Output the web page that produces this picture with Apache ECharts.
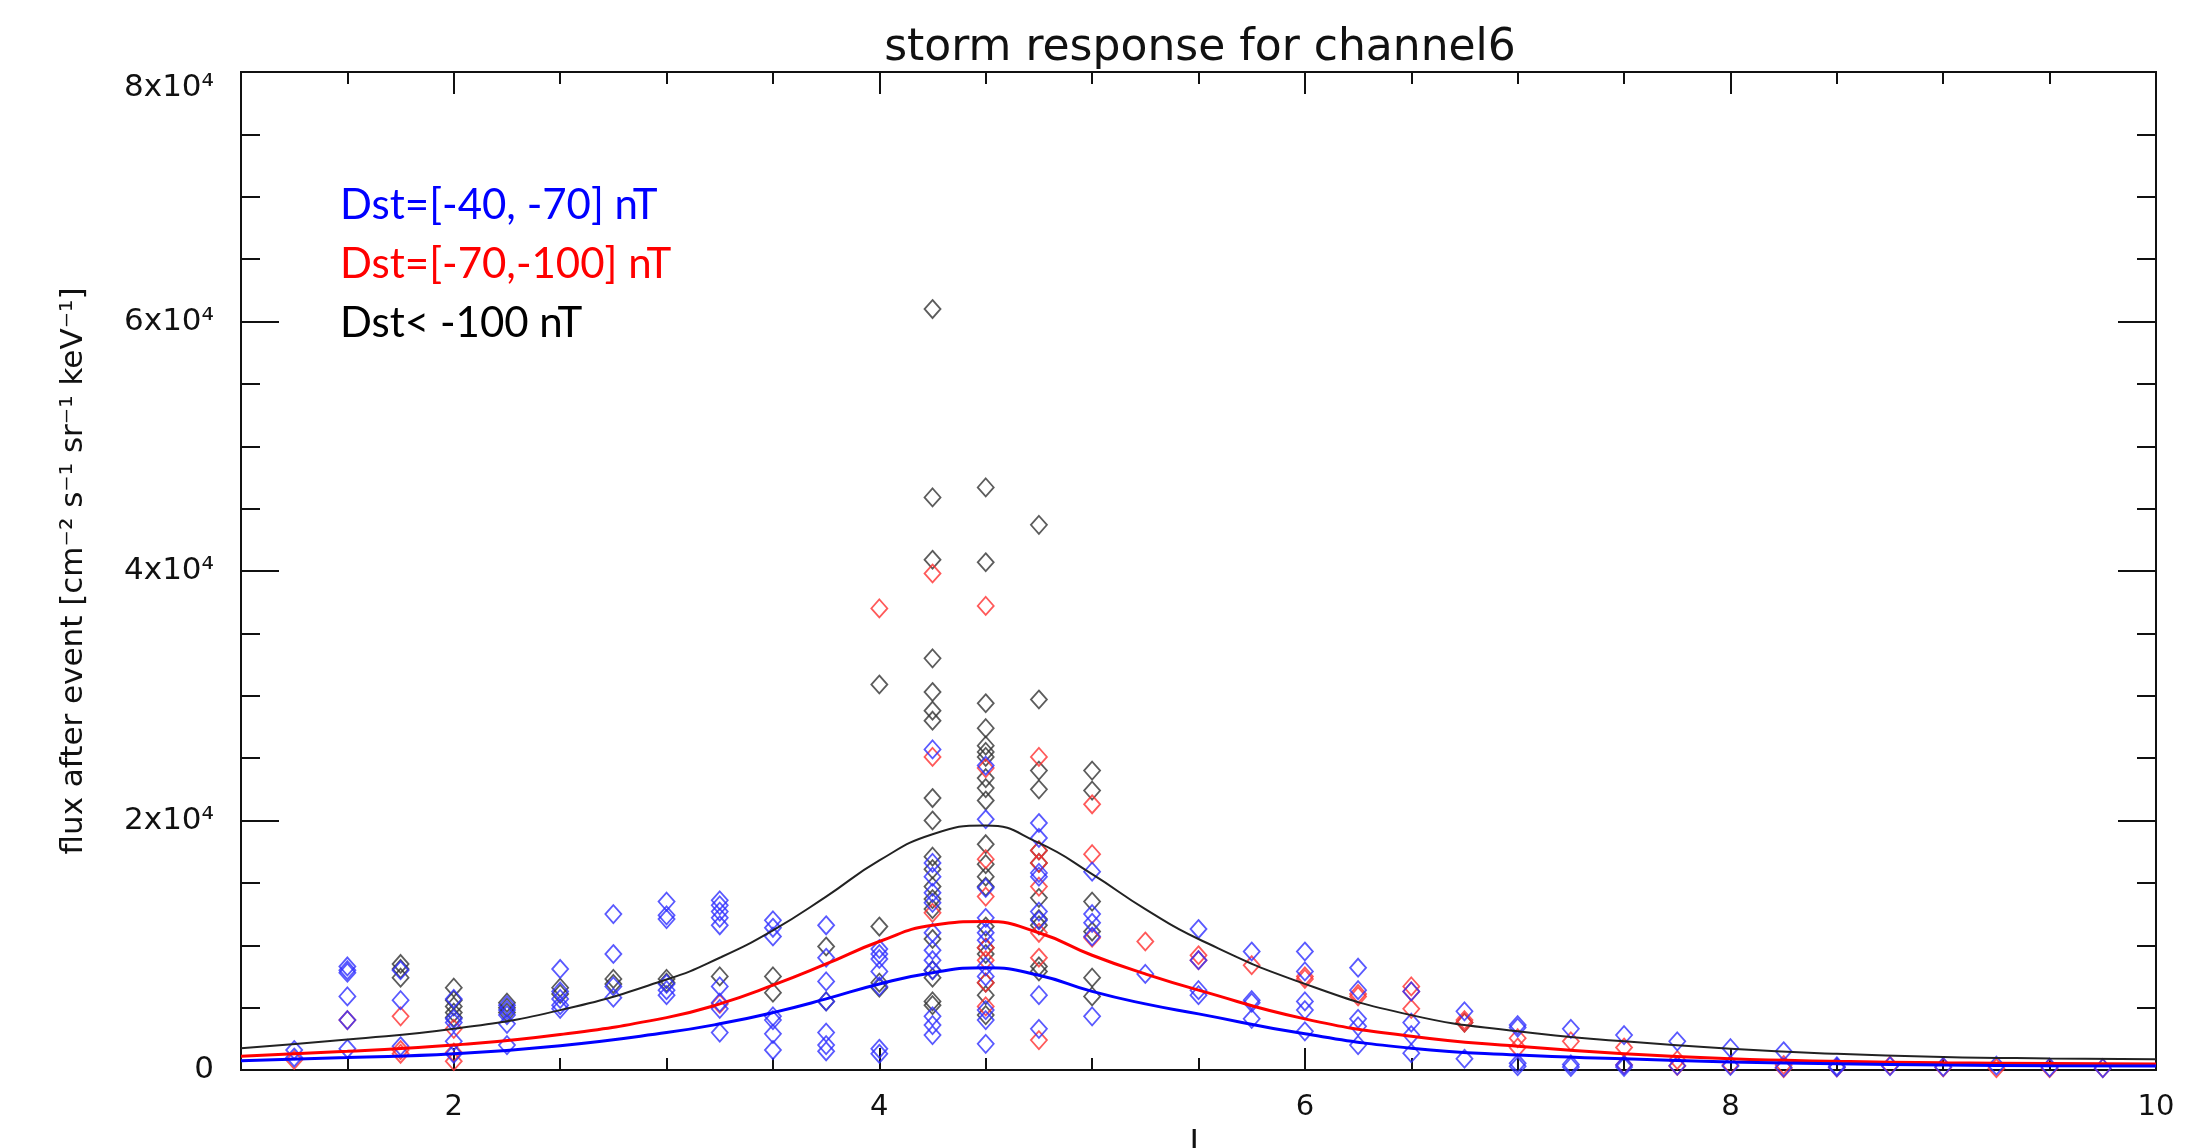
<!DOCTYPE html>
<html>
<head>
<meta charset="utf-8">
<title>storm response for channel6</title>
<script src="https://cdn.jsdelivr.net/npm/echarts@6/dist/echarts.min.js"></script>
<style>
  html, body { margin: 0; padding: 0; background: #fff; }
  #main { width: 2199px; height: 1148px; }
</style>
</head>
<body>
<div id="main"></div>
<script>
// scatter points: [L, [flux values at that L]]
var bluePoints = [
    [1.25, [1600, 1000]],
    [1.5, [8300, 8000, 7800, 5900, 4000, 1700]],
    [1.75, [8000, 5600, 1900]],
    [2.0, [5700, 4100, 3800, 2300, 1300]],
    [2.25, [5200, 4800, 4400, 3700, 2000]],
    [2.5, [8100, 6300, 5700, 5200, 4900]],
    [2.75, [12500, 9300, 6700, 5800]],
    [3.0, [13500, 12400, 12100, 6900, 6400, 6000]],
    [3.25, [13600, 13200, 12700, 12200, 11600, 6700, 5400, 4900, 3000]],
    [3.5, [12000, 11400, 10700, 4300, 4000, 2900, 1600]],
    [3.75, [11600, 9000, 7100, 5500, 3000, 2000, 1500]],
    [4.0, [9700, 9300, 8900, 7900, 6700, 1700, 1300]],
    [4.25, [25700, 16600, 15500, 14200, 13400, 11000, 9600, 8800, 8000, 4300, 3600, 2800]],
    [4.5, [24400, 20100, 14600, 12200, 11000, 10400, 8300, 7500, 4800, 4000, 2100]],
    [4.75, [19800, 18600, 15800, 15500, 12700, 12000, 6000, 3300]],
    [5.0, [15900, 12500, 11800, 10700, 4300]],
    [5.25, [7700]],
    [5.5, [11300, 8800, 6400, 6000]],
    [5.75, [9500, 5600, 5400, 4100]],
    [6.0, [9500, 7900, 5500, 4800, 3100]],
    [6.25, [8200, 6400, 4100, 3500, 2000]],
    [6.5, [6300, 3800, 2800, 1350]],
    [6.75, [4700, 900]],
    [7.0, [3600, 3400, 540, 300]],
    [7.25, [3300, 450, 250]],
    [7.5, [2800, 400, 250]],
    [7.75, [2300, 350]],
    [8.0, [1750, 320]],
    [8.25, [1500, 200]],
    [8.5, [300, 200]],
    [8.75, [300]],
    [9.0, [250]],
    [9.25, [350]],
    [9.5, [200]],
    [9.75, [150]]
];

var redPoints = [
    [1.25, [800]],
    [1.5, [4000]],
    [1.75, [4300, 1600, 1300]],
    [2.0, [3300, 1400, 700]],
    [3.25, [5300]],
    [4.0, [37000]],
    [4.25, [39800, 25100, 12600]],
    [4.5, [37200, 24200, 16900, 13900, 9800, 8800, 7000, 5100]],
    [4.75, [25100, 17600, 16600, 14700, 11000, 9000, 2400]],
    [5.0, [21300, 17300, 10600]],
    [5.25, [10300]],
    [5.5, [9200, 8800]],
    [5.75, [8400]],
    [6.0, [7500, 7300]],
    [6.25, [6100, 5900]],
    [6.5, [6700, 6300, 4900]],
    [6.75, [4000, 3800]],
    [7.0, [2550, 1800]],
    [7.25, [2300]],
    [7.5, [1800, 400]],
    [7.75, [800, 320]],
    [8.0, [400]],
    [8.25, [400, 150]],
    [8.5, [200]],
    [8.75, [350]],
    [9.0, [200]],
    [9.25, [150]],
    [9.5, [150]],
    [9.75, [150]]
];

var blackPoints = [
    [1.75, [8500, 8100, 7400]],
    [2.0, [6600, 5600, 5100, 4600, 4200]],
    [2.25, [5400, 5000, 4600]],
    [2.5, [6600, 6100]],
    [2.75, [7300, 6900]],
    [3.0, [7300, 7000]],
    [3.25, [7500]],
    [3.5, [7500, 6200]],
    [3.75, [9900, 5500]],
    [4.0, [30900, 11500, 7000, 6600]],
    [4.25, [61000, 45900, 40900, 33000, 30300, 28800, 28000, 21800, 20000, 17100, 16100, 14700, 13700, 12900, 10500, 8000, 7400, 5500, 5200]],
    [4.5, [46700, 40700, 29400, 27400, 26000, 25500, 25100, 23400, 22600, 21600, 18100, 16500, 15500, 14700, 11500, 9800, 9300, 7000, 6000, 4400]],
    [4.75, [43700, 29700, 24000, 22500, 17600, 16600, 13800, 12100, 11600, 8300, 7900]],
    [5.0, [24000, 22400, 13500, 11100, 7400, 5900]],
    [6.75, [3800]]
];

// fitted curves
var curveL =     [1,    1.5,  2,    2.5,  3,    3.25, 3.5,   3.75,  4,     4.25,  4.5,   4.75,  5,     5.25,  5.5,   6,    6.5,  7,    7.5,  8,    8.5,  9,    9.5, 10];
var blackCurve = [1750, 2450, 3300, 4800, 7250, 9000, 11200, 13900, 16800, 18900, 19600, 18200, 15700, 12900, 10500, 6900, 4400, 3100, 2300, 1700, 1300, 1050, 930, 860];
var redCurve =   [1100, 1500, 2000, 2850, 4200, 5300, 6800,  8500,  10300, 11600, 11900, 11000, 9200,  7700,  6400,  4100, 2700, 1900, 1300, 900,  700,  580,  520, 480];
var blueCurve =  [750,  1000, 1300, 1950, 3000, 3700, 4600,  5700,  6900,  7800,  8200,  7600,  6300,  5300,  4500,  2900, 1750, 1200, 900,  650,  500,  400,  350, 320];

// axis ticks
var xLabelValues = [2, 4, 6, 8, 10];
var xMajorTicks = [2, 4, 6, 8];
var xMinorTicks = [1.5, 2.5, 3, 3.5, 4.5, 5, 5.5, 6.5, 7, 7.5, 8.5, 9, 9.5];

var legendTexts = ['Dst=[-40, -70] nT', 'Dst=[-70,-100] nT', 'Dst< -100 nT'];

function flatten(points) {
    var out = [];
    points.forEach(function (p) {
        p[1].forEach(function (v) { out.push([p[0], v]); });
    });
    return out;
}
function zip(xs, ys) {
    return xs.map(function (x, i) { return [x, ys[i]]; });
}

var myChart = echarts.init(document.getElementById('main'));

var axisLineStyle = { color: '#111', width: 2 };
var labelFont = 'DejaVu Sans';

function xAxisOf(position, ticks, len, labels, name) {
    return {
        type: 'value',
        position: position,
        min: 1,
        max: 10,
        axisLine: { show: true, onZero: false, lineStyle: axisLineStyle },
        axisTick: { show: true, inside: true, length: len, customValues: ticks, lineStyle: { color: '#111', width: 2 } },
        axisLabel: labels ? {
            show: true, customValues: xLabelValues, margin: 23,
            fontSize: 29, color: '#111', fontFamily: labelFont
        } : { show: false },
        splitLine: { show: false },
        name: name || '',
        nameLocation: 'middle',
        nameGap: 58,
        nameTextStyle: { fontSize: 32, color: '#111', fontFamily: labelFont }
    };
}

function yAxisOf(position, labels) {
    return {
        type: 'value',
        position: position,
        min: 0,
        max: 80000,
        interval: 20000,
        axisLine: { show: true, onZero: false, lineStyle: axisLineStyle },
        axisTick: { show: true, inside: true, length: 38, lineStyle: { color: '#111', width: 2 } },
        minorTick: { show: true, splitNumber: 4, length: 19, lineStyle: { color: '#111', width: 2 } },
        axisLabel: labels ? {
            show: true, margin: 27, fontSize: 31, color: '#111', fontFamily: labelFont,
            verticalAlignMaxLabel: 'top',
            formatter: function (v) { return v === 0 ? '0' : (v / 10000) + 'x10\u2074'; }
        } : { show: false },
        splitLine: { show: false },
        minorSplitLine: { show: false },
        name: labels ? 'flux after event [cm\u207B\u00B2 s\u207B\u00B9 sr\u207B\u00B9 keV\u207B\u00B9]' : '',
        nameLocation: 'middle',
        nameGap: 152,
        nameTextStyle: { fontSize: 31, color: '#111', fontFamily: labelFont }
    };
}

function scatterOf(name, points, color) {
    return {
        name: name,
        type: 'scatter',
        xAxisIndex: 0,
        yAxisIndex: 0,
        symbol: 'diamond',
        symbolSize: [16, 18],
        data: flatten(points),
        itemStyle: { color: 'rgba(0,0,0,0)', borderColor: color, borderWidth: 1.8 },
        silent: true
    };
}

function curveOf(name, ys, color, width) {
    return {
        name: name,
        type: 'line',
        xAxisIndex: 0,
        yAxisIndex: 0,
        smooth: true,
        symbol: 'none',
        data: zip(curveL, ys),
        lineStyle: { color: color, width: width },
        z: 3,
        silent: true
    };
}

option = {
    backgroundColor: '#fff',
    animation: false,
    title: [
        {
            text: 'storm response for channel6',
            left: 1195,
            top: 22,
            textAlign: 'center',
            textStyle: { fontSize: 44, fontWeight: 'normal', color: '#111', fontFamily: labelFont }
        },
        {
            text: '{b|' + legendTexts[0] + '}\n{r|' + legendTexts[1] + '}\n{k|' + legendTexts[2] + '}',
            left: 335,
            top: 171,
            textStyle: {
                fontWeight: 'normal',
                rich: {
                    b: { color: '#0000ff', fontSize: 42, fontWeight: 'normal', fontFamily: 'Lato', lineHeight: 59 },
                    r: { color: '#ff0000', fontSize: 42, fontWeight: 'normal', fontFamily: 'Lato', lineHeight: 59 },
                    k: { color: '#000000', fontSize: 42, fontWeight: 'normal', fontFamily: 'Lato', lineHeight: 59 }
                }
            }
        }
    ],
    grid: {
        left: 241,
        right: 43,
        top: 72,
        bottom: 78,
        containLabel: false,
        outerBoundsMode: 'none'
    },
    xAxis: [
        xAxisOf('bottom', xMinorTicks, 12, true, 'L'),
        xAxisOf('bottom', xMajorTicks, 22, false),
        xAxisOf('top', xMinorTicks, 12, false),
        xAxisOf('top', xMajorTicks, 22, false)
    ],
    yAxis: [
        yAxisOf('left', true),
        yAxisOf('right', false)
    ],
    series: [
        scatterOf(legendTexts[2], blackPoints, '#333333'),
        scatterOf(legendTexts[1], redPoints, '#ff3030'),
        scatterOf(legendTexts[0], bluePoints, '#3030ff'),
        curveOf('fit ' + legendTexts[2], blackCurve, '#222222', 2),
        curveOf('fit ' + legendTexts[1], redCurve, '#ff0000', 3),
        curveOf('fit ' + legendTexts[0], blueCurve, '#0000ff', 3)
    ]
};
myChart.setOption(option);
</script>
</body>
</html>
